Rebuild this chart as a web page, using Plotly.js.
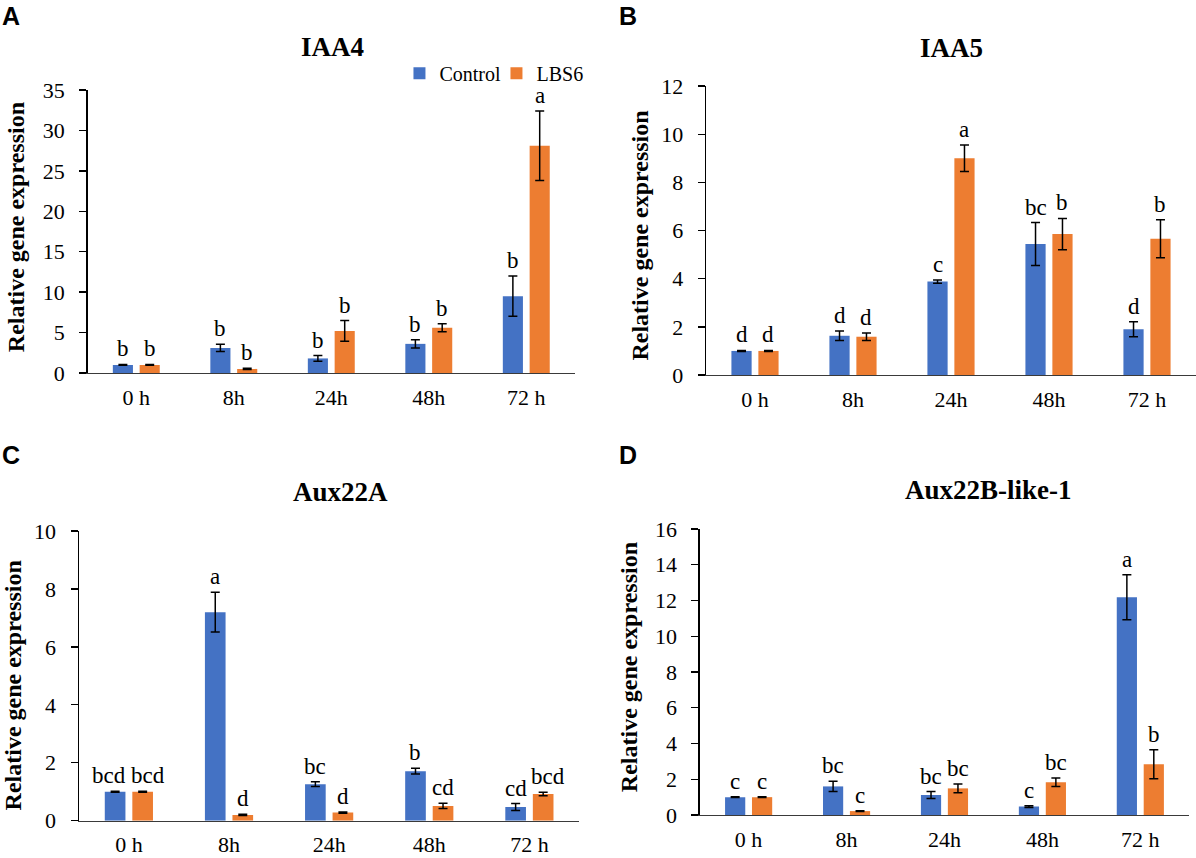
<!DOCTYPE html>
<html>
<head>
<meta charset="utf-8">
<script src="https://cdn.plot.ly/plotly-3.0.1.min.js"></script>
<style>html,body{margin:0;padding:0;background:#fff;}#chart{width:1196px;height:858px;}</style>
</head>
<body>
<div id="chart"></div>
<script>
// ---- data ----
const categories = ['0 h', '8h', '24h', '48h', '72 h'];
const seriesNames = ['Control', 'LBS6'];
const genes = ['IAA4', 'IAA5', 'Aux22A', 'Aux22B-like-1'];
const panelLetters = ['A', 'B', 'C', 'D'];

const iaa4Control = [1.0, 3.1, 1.8, 3.6, 9.5];
const iaa4ControlErr = [0.05, 0.45, 0.35, 0.5, 2.5];
const iaa4Lbs6 = [1.0, 0.5, 5.2, 5.6, 28.1];
const iaa4Lbs6Err = [0.05, 0.08, 1.28, 0.5, 4.3];
const iaa4ControlLetters = ['b', 'b', 'b', 'b', 'b'];
const iaa4Lbs6Letters = ['b', 'b', 'b', 'b', 'a'];

const iaa5Control = [1.0, 1.63, 3.88, 5.44, 1.9];
const iaa5ControlErr = [0.02, 0.2, 0.07, 0.89, 0.31];
const iaa5Lbs6 = [1.0, 1.59, 9.0, 5.85, 5.66];
const iaa5Lbs6Err = [0.02, 0.16, 0.55, 0.65, 0.79];
const iaa5ControlLetters = ['d', 'd', 'c', 'bc', 'd'];
const iaa5Lbs6Letters = ['d', 'd', 'a', 'b', 'b'];

const aux22aControl = [1.0, 7.2, 1.26, 1.71, 0.47];
const aux22aControlErr = [0.02, 0.69, 0.08, 0.1, 0.12];
const aux22aLbs6 = [1.0, 0.2, 0.28, 0.51, 0.92];
const aux22aLbs6Err = [0.02, 0.02, 0.02, 0.09, 0.06];
const aux22aControlLetters = ['bcd', 'a', 'bc', 'b', 'cd'];
const aux22aLbs6Letters = ['bcd', 'd', 'd', 'cd', 'bcd'];

const aux22bControl = [1.0, 1.6, 1.12, 0.47, 12.18];
const aux22bControlErr = [0.02, 0.29, 0.19, 0.05, 1.26];
const aux22bLbs6 = [1.0, 0.22, 1.49, 1.83, 2.84];
const aux22bLbs6Err = [0.02, 0.02, 0.24, 0.24, 0.81];
const aux22bControlLetters = ['c', 'bc', 'bc', 'c', 'a'];
const aux22bLbs6Letters = ['c', 'c', 'bc', 'bc', 'b'];

// ---- styling / layout ----
const COLORS = ['#4472C4', '#ED7D31'];
const SERIF = 'Liberation Serif, Times New Roman, serif';
const SANS = 'Liberation Sans, Arial, sans-serif';

const panels = [
  {ctl: iaa4Control, ctlErr: iaa4ControlErr, trt: iaa4Lbs6, trtErr: iaa4Lbs6Err, ctlL: iaa4ControlLetters, trtL: iaa4Lbs6Letters,
   xdom: [0.0732, 0.4808], ydom: [0.5653, 0.8951], range: [0, 35], dtick: 5,
   title: [0.2776, 0.9452], letter: [0.0, 0.981], ytitle: [0.0135, 0.7354]},
  {ctl: iaa5Control, ctlErr: iaa5ControlErr, trt: iaa5Lbs6, trtErr: iaa5Lbs6Err, ctlL: iaa5ControlLetters, trtL: iaa5Lbs6Letters,
   xdom: [0.5903, 1.0], ydom: [0.5629, 0.8998], range: [0, 12], dtick: 2,
   title: [0.7952, 0.944], letter: [0.5155, 0.981], ytitle: [0.5348, 0.725]},
  {ctl: aux22aControl, ctlErr: aux22aControlErr, trt: aux22aLbs6, trtErr: aux22aLbs6Err, ctlL: aux22aControlLetters, trtL: aux22aLbs6Letters,
   xdom: [0.0659, 0.4845], ydom: [0.0435, 0.3811], range: [0, 10], dtick: 2,
   title: [0.2843, 0.4266], letter: [0.0, 0.4697], ytitle: [0.0112, 0.2016]},
  {ctl: aux22bControl, ctlErr: aux22bControlErr, trt: aux22bLbs6, trtErr: aux22bLbs6Err, ctlL: aux22bControlLetters, trtL: aux22bLbs6Letters,
   xdom: [0.585, 0.9944], ydom: [0.0501, 0.3834], range: [0, 16], dtick: 2,
   title: [0.8269, 0.4289], letter: [0.5155, 0.4697], ytitle: [0.5255, 0.223]}
];

const BARGAP = 0.45, BARGROUPGAP = 0.25;
const OFFSET = (1 - BARGAP) / 4; // centre offset of each bar in category units

const traces = [];
const annotations = [];
const layout = {
  width: 1196, height: 858,
  margin: {l: 0, r: 0, t: 0, b: 0},
  paper_bgcolor: '#fff', plot_bgcolor: '#fff',
  barmode: 'group', bargap: BARGAP, bargroupgap: BARGROUPGAP,
  font: {family: SERIF, color: '#000', size: 22},
  showlegend: true,
  legend: {orientation: 'h', x: 0.334, y: 0.9145, xanchor: 'left', yanchor: 'middle',
           font: {family: SERIF, size: 20, color: '#000'}, bgcolor: 'rgba(0,0,0,0)', itemwidth: 30,
           entrywidth: 52, entrywidthmode: 'pixels'},
  annotations: annotations
};

panels.forEach((p, i) => {
  const n = i === 0 ? '' : String(i + 1);
  const xa = 'x' + n, ya = 'y' + n;
  [[p.ctl, p.ctlErr, 0], [p.trt, p.trtErr, 1]].forEach(([vals, errs, s]) => {
    traces.push({
      type: 'bar', x: categories, y: vals, name: seriesNames[s],
      xaxis: xa, yaxis: ya, legendgroup: seriesNames[s], showlegend: i === 0,
      marker: {color: COLORS[s]},
      error_y: {type: 'data', array: errs, visible: true, color: '#000', thickness: 1.5, width: 4.5},
      hoverinfo: 'skip'
    });
  });
  layout['xaxis' + n] = {
    domain: p.xdom, anchor: ya, type: 'category', categoryorder: 'array', categoryarray: categories,
    showline: true, linecolor: '#3a3a3a', linewidth: 1.3, ticks: '', showgrid: false, zeroline: false,
    tickfont: {family: SERIF, size: 22, color: '#000'}, ticklabelstandoff: 4, fixedrange: true
  };
  layout['yaxis' + n] = {
    domain: p.ydom, anchor: xa, range: p.range, dtick: p.dtick, tick0: 0,
    showline: true, linecolor: '#000', linewidth: 1.3, ticks: 'outside', ticklen: 7, tickcolor: '#000', tickwidth: 1.3,
    showgrid: false, zeroline: false,
    tickfont: {family: SERIF, size: 22, color: '#000'}, ticklabelstandoff: 10, fixedrange: true
  };
  // gene title
  annotations.push({xref: 'paper', yref: 'paper', x: p.title[0], y: p.title[1], xanchor: 'center', yanchor: 'middle',
    text: '<b>' + genes[i] + '</b>', showarrow: false, font: {family: SERIF, size: 27, color: '#000'}});
  // panel letter
  annotations.push({xref: 'paper', yref: 'paper', x: p.letter[0], y: p.letter[1], xanchor: 'left', yanchor: 'middle',
    text: '<b>' + panelLetters[i] + '</b>', showarrow: false, font: {family: SANS, size: 25, color: '#000'}});
  // y axis title
  annotations.push({xref: 'paper', yref: 'paper', x: p.ytitle[0], y: p.ytitle[1], xanchor: 'center', yanchor: 'middle',
    text: '<b>Relative gene expression</b>', textangle: -90, showarrow: false, font: {family: SERIF, size: 24, color: '#000'}});
  // significance letters (long labels nudged apart as in the original)
  categories.forEach((c, k) => {
    const cShift = p.ctlL[k].length >= 3 ? -6 : 0;
    const tShift = p.trtL[k].length >= 3 ? 5 : 0;
    annotations.push({xref: xa, yref: ya, x: k - OFFSET, y: p.ctl[k] + p.ctlErr[k], xanchor: 'center', yanchor: 'bottom',
      text: p.ctlL[k], showarrow: false, yshift: 1, xshift: cShift, font: {family: SERIF, size: 23, color: '#000'}});
    annotations.push({xref: xa, yref: ya, x: k + OFFSET, y: p.trt[k] + p.trtErr[k], xanchor: 'center', yanchor: 'bottom',
      text: p.trtL[k], showarrow: false, yshift: 1, xshift: tShift, font: {family: SERIF, size: 23, color: '#000'}});
  });
});

Plotly.newPlot('chart', traces, layout, {staticPlot: true, displayModeBar: false});
</script>
</body>
</html>
